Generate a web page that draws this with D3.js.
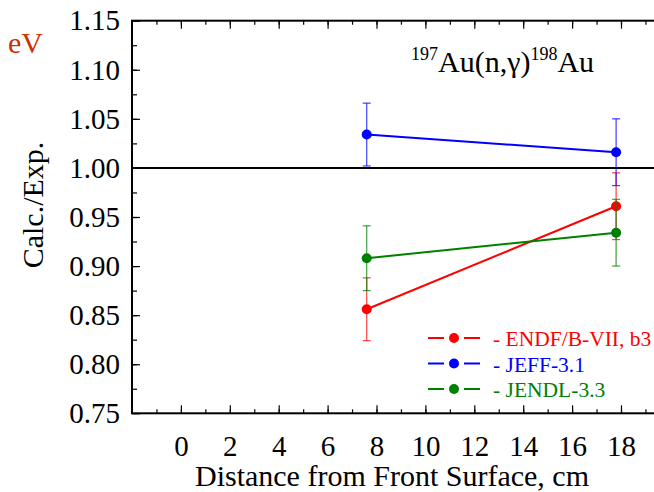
<!DOCTYPE html>
<html>
<head>
<meta charset="utf-8">
<script src="https://cdn.jsdelivr.net/npm/d3@7"></script>
<style>
  body { margin: 0; background: #fff; }
  svg text { font-family: "Liberation Serif", "Times New Roman", Times, "Nimbus Roman", "DejaVu Serif", "Noto Serif", serif !important; }
</style>
</head>
<body>
<div id="chart"></div>
<script>
// data
const positions = [7.6, 17.8];
const endf = [0.856, 0.961];
const endfErr = [0.032, 0.034];
const jeff = [1.034, 1.016];
const jeffErr = [0.032, 0.034];
const jendl = [0.908, 0.934];
const jendlErr = [0.033, 0.034];
const xTicks = [0, 2, 4, 6, 8, 10, 12, 14, 16, 18];
const yTicks = [0.75, 0.80, 0.85, 0.90, 0.95, 1.00, 1.05, 1.10, 1.15];

const series = [
  { name: "- ENDF/B-VII, b3", color: "#ff0000", vals: endf, errs: endfErr },
  { name: "- JEFF-3.1", color: "#0000ff", vals: jeff, errs: jeffErr },
  { name: "- JENDL-3.3", color: "#008000", vals: jendl, errs: jendlErr }
];

const width = 654;
const height = 492;
const serif = "'Liberation Serif', 'Times New Roman', Times, 'DejaVu Serif', serif";

const svg = d3.select("#chart")
  .append("svg")
  .attr("width", width)
  .attr("height", height)
  .attr("font-family", serif);

// plot box goes past the right edge (cropped in the original)
const plotLeft = 132, plotTop = 20.7, plotBottom = 413.3;
const x = d3.scaleLinear().domain([-2, 20]).range([plotLeft, plotLeft + 22 * 24.45]);
const y = d3.scaleLinear().domain([0.75, 1.15]).range([plotBottom, plotTop]);
const plotRight = x(20);

// minor ticks
const xMinor = d3.range(-1, 20, 1);
const yMinor = d3.range(0.775, 1.15, 0.025);

// bottom axis, ticks inward
svg.append("g")
  .attr("transform", "translate(0," + plotBottom + ")")
  .call(d3.axisBottom(x).tickValues(xMinor).tickSize(-4).tickFormat(""))
  .call(g => g.select(".domain").remove())
  .selectAll("line").attr("stroke-width", 1.2);
svg.append("g")
  .attr("transform", "translate(0," + plotBottom + ")")
  .call(d3.axisBottom(x).tickValues(xTicks).tickSize(-8).tickPadding(22))
  .attr("font-family", serif)
  .call(g => g.select(".domain").remove())
  .call(g => g.selectAll("line").attr("stroke-width", 1.2))
  .call(g => g.selectAll("text").attr("font-size", 29).attr("fill", "#000"));

// top axis ticks
svg.append("g")
  .attr("transform", "translate(0," + plotTop + ")")
  .call(d3.axisTop(x).tickValues(xMinor).tickSize(-4).tickFormat(""))
  .call(g => g.select(".domain").remove())
  .selectAll("line").attr("stroke-width", 1.2);
svg.append("g")
  .attr("transform", "translate(0," + plotTop + ")")
  .call(d3.axisTop(x).tickValues(xTicks).tickSize(-8).tickFormat(""))
  .call(g => g.select(".domain").remove())
  .selectAll("line").attr("stroke-width", 1.2);

// left axis
svg.append("g")
  .attr("transform", "translate(" + plotLeft + ",0)")
  .call(d3.axisLeft(y).tickValues(yMinor).tickSize(-5).tickFormat(""))
  .call(g => g.select(".domain").remove())
  .selectAll("line").attr("stroke-width", 1.2);
svg.append("g")
  .attr("transform", "translate(" + plotLeft + ",0)")
  .call(d3.axisLeft(y).tickValues(yTicks).tickSize(-8).tickPadding(12).tickFormat(d3.format(".2f")))
  .attr("font-family", serif)
  .call(g => g.select(".domain").remove())
  .call(g => g.selectAll("line").attr("stroke-width", 1.2))
  .call(g => g.selectAll("text").attr("font-size", 29).attr("fill", "#000"));

// frame
svg.append("rect")
  .attr("x", plotLeft).attr("y", plotTop)
  .attr("width", plotRight - plotLeft).attr("height", plotBottom - plotTop)
  .attr("fill", "none").attr("stroke", "#000").attr("stroke-width", 2);

// reference line at 1.0
svg.append("line")
  .attr("x1", plotLeft).attr("x2", plotRight)
  .attr("y1", y(1)).attr("y2", y(1))
  .attr("stroke", "#000").attr("stroke-width", 2);

const line = d3.line().x(d => x(d[0])).y(d => y(d[1]));

series.forEach(s => {
  const g = svg.append("g");
  positions.forEach((p, i) => {
    const px = x(p);
    g.append("line")
      .attr("x1", px).attr("x2", px)
      .attr("y1", y(s.vals[i] - s.errs[i])).attr("y2", y(s.vals[i] + s.errs[i]))
      .attr("stroke", s.color).attr("stroke-width", 1.2).attr("opacity", 0.75);
    [s.vals[i] - s.errs[i], s.vals[i] + s.errs[i]].forEach(v => {
      g.append("line")
        .attr("x1", px - 4).attr("x2", px + 4)
        .attr("y1", y(v)).attr("y2", y(v))
        .attr("stroke", s.color).attr("stroke-width", 1.2).attr("opacity", 0.75);
    });
  });
  g.append("path")
    .datum(positions.map((p, i) => [p, s.vals[i]]))
    .attr("d", line)
    .attr("fill", "none").attr("stroke", s.color).attr("stroke-width", 2);
  g.selectAll("circle")
    .data(positions.map((p, i) => [p, s.vals[i]]))
    .enter()
    .append("circle")
    .attr("cx", d => x(d[0]))
    .attr("cy", d => y(d[1]))
    .attr("r", 5)
    .attr("fill", s.color);
});

// legend
const legend = svg.append("g");
series.forEach((s, i) => {
  const ly = 338 + i * 25.5;
  legend.append("line")
    .attr("x1", 428).attr("x2", 444).attr("y1", ly).attr("y2", ly)
    .attr("stroke", s.color).attr("stroke-width", 2);
  legend.append("line")
    .attr("x1", 464).attr("x2", 480).attr("y1", ly).attr("y2", ly)
    .attr("stroke", s.color).attr("stroke-width", 2);
  legend.append("circle")
    .attr("cx", 454).attr("cy", ly).attr("r", 5).attr("fill", s.color);
  legend.append("text")
    .attr("x", 493).attr("y", ly + 8)
    .attr("font-size", 21.5)
    .attr("fill", s.color)
    .text(s.name);
});

// reaction label
const lab = svg.append("text")
  .attr("x", 411).attr("y", 72)
  .attr("font-size", 30)
  .attr("fill", "#000");
lab.append("tspan").attr("font-size", 18).attr("dy", -12).text("197");
lab.append("tspan").attr("dy", 12).text("Au(n,\u03b3)");
lab.append("tspan").attr("font-size", 18).attr("dy", -12).text("198");
lab.append("tspan").attr("dy", 12).text("Au");

// cropped fragment at top-left
svg.append("text")
  .attr("x", 43).attr("y", 53)
  .attr("text-anchor", "end")
  .attr("font-size", 30)
  .attr("fill", "#cc3300")
  .text("eV");

// axis titles
svg.append("text")
  .attr("x", 392).attr("y", 486)
  .attr("text-anchor", "middle")
  .attr("font-size", 30)
  .attr("fill", "#000")
  .text("Distance from Front Surface, cm");

svg.append("text")
  .attr("transform", "translate(43,205) rotate(-90)")
  .attr("text-anchor", "middle")
  .attr("font-size", 30)
  .attr("fill", "#000")
  .text("Calc./Exp.");
</script>
</body>
</html>
